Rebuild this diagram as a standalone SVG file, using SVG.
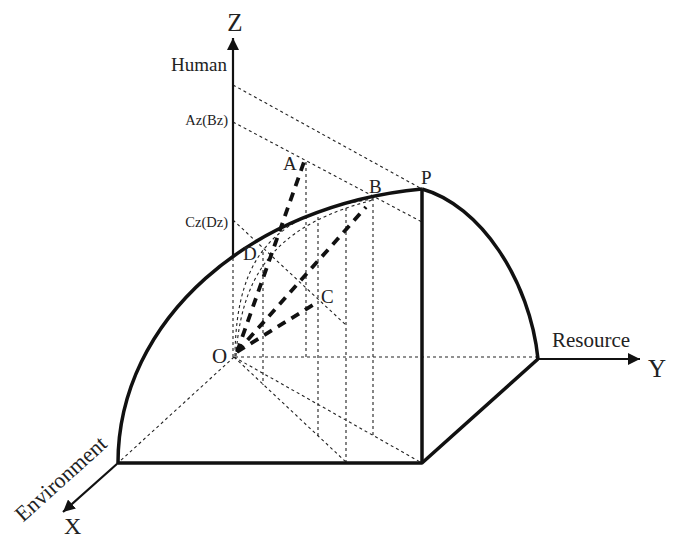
<svg xmlns="http://www.w3.org/2000/svg" width="675" height="538" viewBox="0 0 675 538">
<defs>
<style>
.dot{fill:none;stroke:#222;stroke-width:1.1;stroke-dasharray:3 3}
.thick{fill:none;stroke:#111;stroke-width:3.5;stroke-linejoin:round}
.axis{fill:none;stroke:#111;stroke-width:2.2}
.dash{fill:none;stroke:#111;stroke-width:3.8;stroke-dasharray:9 7}
.t{font-family:"Liberation Serif","Times New Roman",serif;fill:#222}
</style>
<marker id="arr" viewBox="0 0 12 12" refX="12" refY="6" markerWidth="12" markerHeight="12" markerUnits="userSpaceOnUse" orient="auto">
<path d="M0,0 L12,6 L0,12 Z" fill="#111"/>
</marker>
</defs>
<rect width="675" height="538" fill="#fff"/>
<g id="connectors">
<line class="dot" x1="233" y1="85" x2="422" y2="189"/>
<line class="dot" x1="233" y1="122" x2="422" y2="222"/>
<line class="dot" x1="233" y1="220" x2="347" y2="326"/>
<line class="dot" x1="233" y1="258" x2="233" y2="357"/>
<line class="dot" x1="235" y1="357" x2="538" y2="357"/>
<line class="dot" x1="234" y1="357" x2="118" y2="463"/>
<line class="dot" x1="234" y1="357" x2="422" y2="463"/>
<line class="dot" x1="234" y1="357" x2="347" y2="463"/>
<line class="dot" x1="263" y1="252" x2="263" y2="385"/>
<line class="dot" x1="306" y1="162" x2="306" y2="357"/>
<line class="dot" x1="318" y1="217" x2="318" y2="436"/>
<line class="dot" x1="346" y1="208" x2="346" y2="463"/>
<line class="dot" x1="373" y1="198" x2="373" y2="436"/>
<path class="dot" d="M235,356 C236,250 280,212 373,199"/>
<path class="dot" d="M236,356 C242,260 290,222 373,200"/>
<line class="dash" x1="237" y1="352" x2="304" y2="162"/>
<line class="dash" x1="237" y1="352" x2="366" y2="207"/>
<line class="dash" x1="237" y1="352" x2="316" y2="303"/>
<line class="axis" x1="233" y1="258" x2="233" y2="38" marker-end="url(#arr)"/>
<line class="axis" x1="538" y1="359" x2="640" y2="359" marker-end="url(#arr)"/>
<line class="axis" x1="118" y1="463" x2="63" y2="512" marker-end="url(#arr)"/>
<path class="thick" d="M118,463 C118,320 250,205 422,189"/>
<path class="thick" d="M422,189 C480,205 530,280 538,359"/>
<line class="thick" x1="422" y1="189" x2="422" y2="463"/>
<polyline class="thick" points="118,463 422,463 538,359"/>
</g>
<g id="labels">
<text class="t" x="235" y="31" font-size="25" text-anchor="middle">Z</text>
<text class="t" x="227" y="71" font-size="19" text-anchor="end">Human</text>
<text class="t" x="228" y="125" font-size="14.5" text-anchor="end">Az(Bz)</text>
<text class="t" x="228" y="227" font-size="14.5" text-anchor="end">Cz(Dz)</text>
<text class="t" x="283" y="170" font-size="19">A</text>
<text class="t" x="369" y="193" font-size="19">B</text>
<text class="t" x="421" y="184" font-size="19">P</text>
<text class="t" x="243" y="260" font-size="19">D</text>
<text class="t" x="321" y="303" font-size="19">C</text>
<text class="t" x="212" y="363" font-size="21">O</text>
<text class="t" x="552" y="347" font-size="21">Resource</text>
<text class="t" x="648" y="377" font-size="25">Y</text>
<text class="t" x="64" y="534" font-size="24">X</text>
<text class="t" x="61" y="486" font-size="22" text-anchor="middle" transform="rotate(-42 61 479)">Environment</text>
</g>
</svg>
